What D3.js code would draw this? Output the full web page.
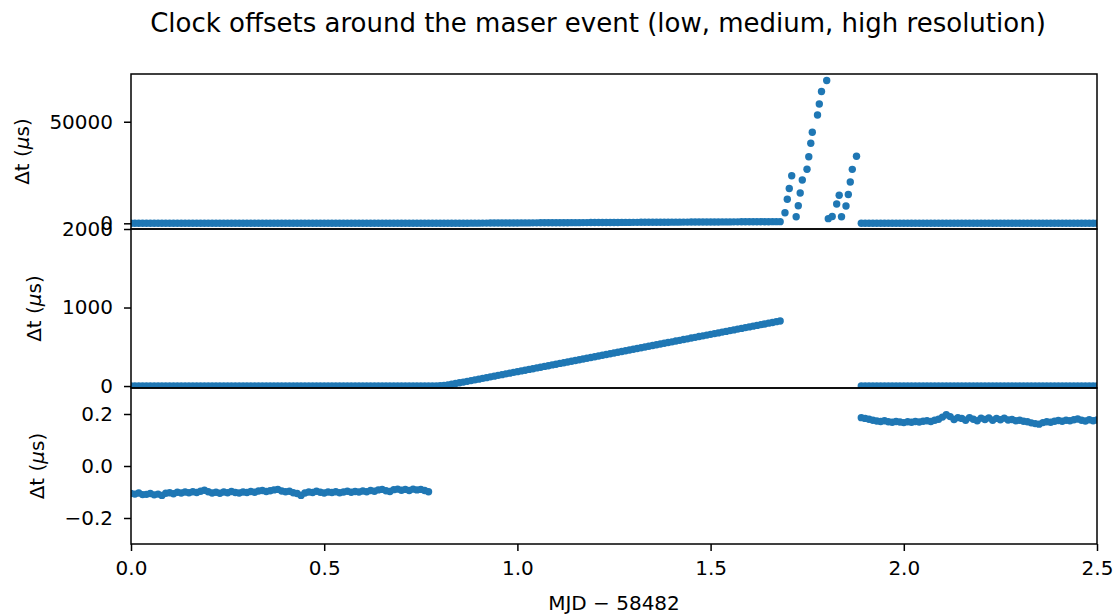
<!DOCTYPE html>
<html>
<head>
<meta charset="utf-8">
<script src="https://cdnjs.cloudflare.com/ajax/libs/d3/7.8.5/d3.min.js"></script>
<style>
body { margin: 0; background: #fff; }
text { font-family: "DejaVu Sans", sans-serif; fill: #000; }
</style>
</head>
<body>
<script>
var width = 1115,
	height = 615;

// offsets are logged every 0.01 d, values in microseconds
var step = 0.01;

// before the event, MJD-58482 = 0.00 .. 0.77
var preStart = 0.00;
var preUs = [
	-0.106, -0.108, -0.104, -0.110, -0.109, -0.106, -0.111, -0.108, -0.113, -0.105,
	-0.103, -0.107, -0.101, -0.104, -0.100, -0.103, -0.099, -0.102, -0.097, -0.093,
	-0.099, -0.104, -0.101, -0.105, -0.100, -0.103, -0.098, -0.102, -0.104, -0.100,
	-0.102, -0.098, -0.101, -0.096, -0.094, -0.098, -0.095, -0.092, -0.090, -0.096,
	-0.099, -0.097, -0.103, -0.106, -0.113, -0.104, -0.100, -0.102, -0.097, -0.101,
	-0.104, -0.100, -0.102, -0.099, -0.103, -0.100, -0.097, -0.101, -0.098, -0.100,
	-0.096, -0.099, -0.094, -0.097, -0.092, -0.090, -0.095, -0.098, -0.091, -0.089,
	-0.093, -0.090, -0.094, -0.089, -0.092, -0.090, -0.094, -0.099
];

// slow drift, 0.78 .. 1.68
var driftStart = 0.78;
var driftUs = [
	0.6, 1.5, 3, 8, 15, 23, 32, 41, 50, 60, 69, 79, 88,
	98, 107, 117, 126, 136, 145, 155, 164, 174, 183,
	193, 202, 212, 221, 231, 240, 250, 259, 269, 278,
	288, 297, 307, 316, 326, 335, 345, 354, 364, 373,
	383, 392, 402, 411, 421, 430, 440, 449, 459, 468,
	478, 487, 497, 506, 516, 525, 535, 544, 554, 563,
	573, 582, 592, 601, 611, 620, 630, 639, 649, 658,
	668, 677, 687, 696, 706, 715, 725, 734, 744, 753,
	763, 772, 782, 791, 801, 810, 820, 829
];

// the maser event itself, read point by point
var eventMjd = [
	1.6925, 1.6985, 1.7036, 1.7099, 1.7215, 1.7269, 1.7319, 1.7373,
	1.7495, 1.7541, 1.7593, 1.7632, 1.7767, 1.7813, 1.7870, 1.8005,
	1.8046, 1.8147, 1.8263, 1.8328, 1.8388, 1.8504, 1.8564, 1.8615,
	1.8667, 1.8776
];
var eventUs = [
	5217, 11811, 17126, 23376, 3248, 8612, 14911, 21309,
	26624, 32776, 39419, 44833, 53297, 58711, 64862, 70325,
	2300, 3346, 9498, 13829, 3248, 8514, 14173, 20325,
	26575, 33022
];

// after the event, 1.89 .. 2.50
var postStart = 1.89;
var postUs = [
	0.186, 0.183, 0.180, 0.176, 0.173, 0.171, 0.174, 0.170, 0.168, 0.171,
	0.169, 0.167, 0.170, 0.168, 0.171, 0.169, 0.172, 0.174, 0.171, 0.176,
	0.180, 0.188, 0.197, 0.190, 0.179, 0.186, 0.183, 0.176, 0.186, 0.180,
	0.174, 0.184, 0.179, 0.185, 0.176, 0.183, 0.178, 0.184, 0.177, 0.179,
	0.174, 0.176, 0.172, 0.170, 0.166, 0.163, 0.161, 0.167, 0.170, 0.168,
	0.172, 0.175, 0.172, 0.176, 0.174, 0.178, 0.181, 0.176, 0.173, 0.178,
	0.174, 0.177
];

var xTicks = [0, 0.5, 1.0, 1.5, 2.0, 2.5];
var lowTicks = [0, 50000];
var medTicks = [0, 1000, 2000];
var highTicks = [-0.2, 0.0, 0.2];

var points = [];
function addRun(start, values){
	values.forEach(function(v, i){
		points.push({t: start + i * step, v: v});
	});
}
addRun(preStart, preUs);
addRun(driftStart, driftUs);
eventMjd.forEach(function(t, i){
	points.push({t: t, v: eventUs[i]});
});
addRun(postStart, postUs);

var svg = d3.select("body").append("svg")
	.attr("width", width)
	.attr("height", height);

var left = 131, right = 1097;
var fontSize = 20;

var xScale = d3.scaleLinear()
	.domain([0, 2.5])
	.range([left, right]);

var panels = [
	{top: 74, bottom: 229, domain: [-2800, 73500], ticks: lowTicks, fmt: d3.format("d"), labelX: 22},
	{top: 229, bottom: 388, domain: [-25, 2000], ticks: medTicks, fmt: d3.format("d"), labelX: 34},
	{top: 388, bottom: 544, domain: [-0.3, 0.3], ticks: highTicks, fmt: d3.format(".1f"), labelX: 37}
];

panels.forEach(function(p, i){
	var yScale = d3.scaleLinear()
		.domain(p.domain)
		.range([p.bottom, p.top]);

	svg.append("clipPath")
		.attr("id", "clip" + i)
		.append("rect")
			.attr("x", left)
			.attr("y", p.top)
			.attr("width", right - left)
			.attr("height", p.bottom - p.top);

	svg.append("g")
		.attr("clip-path", "url(#clip" + i + ")")
		.selectAll("circle")
		.data(points)
		.enter()
		.append("circle")
			.attr("cx", function(d){ return xScale(d.t); })
			.attr("cy", function(d){ return yScale(d.v); })
			.attr("r", 3.7)
			.attr("fill", "#1f77b4");

	var yAxis = svg.append("g")
		.attr("transform", "translate(" + left + ",0)")
		.call(d3.axisLeft(yScale)
			.tickValues(p.ticks)
			.tickFormat(p.fmt)
			.tickSize(7)
			.tickPadding(11));
	yAxis.select(".domain").remove();
	yAxis.selectAll("line").attr("stroke", "#000").attr("stroke-width", 1.5);
	yAxis.selectAll("text").attr("font-size", fontSize).attr("fill", "#000");

	var lab = svg.append("text")
		.attr("transform", "translate(" + p.labelX + "," + (p.top + p.bottom) / 2 + ") rotate(-90)")
		.attr("text-anchor", "middle")
		.attr("dominant-baseline", "central")
		.attr("font-size", fontSize);
	lab.append("tspan").text("\u0394t (");
	lab.append("tspan").attr("font-style", "italic").text("\u03bc");
	lab.append("tspan").text("s)");
});

var xAxis = svg.append("g")
	.attr("transform", "translate(0,544)")
	.call(d3.axisBottom(xScale)
		.tickValues(xTicks)
		.tickFormat(d3.format(".1f"))
		.tickSize(7)
		.tickPadding(10));
xAxis.select(".domain").remove();
xAxis.selectAll("line").attr("stroke", "#000").attr("stroke-width", 1.5);
xAxis.selectAll("text").attr("font-size", fontSize).attr("fill", "#000");

// spines on top of the markers
panels.forEach(function(p){
	svg.append("rect")
		.attr("x", left)
		.attr("y", p.top)
		.attr("width", right - left)
		.attr("height", p.bottom - p.top)
		.attr("fill", "none")
		.attr("stroke", "#000")
		.attr("stroke-width", 1.5);
});

svg.append("text")
	.attr("x", 598)
	.attr("y", 32)
	.attr("text-anchor", "middle")
	.attr("font-size", 26)
	.text("Clock offsets around the maser event (low, medium, high resolution)");

svg.append("text")
	.attr("x", (left + right) / 2)
	.attr("y", 610)
	.attr("text-anchor", "middle")
	.attr("font-size", fontSize)
	.text("MJD \u2212 58482");
</script>
</body>
</html>
